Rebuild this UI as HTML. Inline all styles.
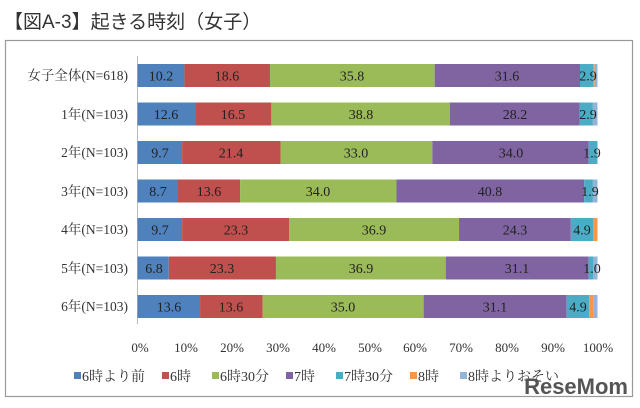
<!DOCTYPE html>
<html><head><meta charset="utf-8"><style>
html,body{margin:0;padding:0;background:#fff;}
svg{display:block;}
</style></head><body>
<svg width="640" height="408" xmlns="http://www.w3.org/2000/svg" font-family="'Liberation Serif','Noto Serif CJK SC',serif">
<rect x="0" y="0" width="640" height="408" fill="#fff"/>
<text x="4" y="28" font-size="19" fill="#333" font-family="'Liberation Sans','Noto Sans CJK JP',sans-serif">【図A-3】起きる時刻（女子）</text>
<rect x="5.5" y="40.5" width="627" height="356" fill="none" stroke="#999" stroke-width="1.2"/>
<line x1="137.5" y1="56" x2="137.5" y2="324" stroke="#bbb"/>

<g>
<rect x="137.5" y="64" width="46.92" height="23" fill="#4f81bd"/>
<rect x="184.42" y="64" width="85.56" height="23" fill="#c0504d"/>
<rect x="269.98" y="64" width="164.68" height="23" fill="#9bbb59"/>
<rect x="434.66" y="64" width="145.36" height="23" fill="#8064a2"/>
<rect x="580.02" y="64" width="13.34" height="23" fill="#4bacc6"/>
<rect x="593.36" y="64" width="1.38" height="23" fill="#f79646"/>
<rect x="594.74" y="64" width="2.76" height="23" fill="#95b3d7"/>

<rect x="137.5" y="102.5" width="57.96" height="23" fill="#4f81bd"/>
<rect x="195.46" y="102.5" width="75.9" height="23" fill="#c0504d"/>
<rect x="271.36" y="102.5" width="178.48" height="23" fill="#9bbb59"/>
<rect x="449.84" y="102.5" width="129.72" height="23" fill="#8064a2"/>
<rect x="579.56" y="102.5" width="13.34" height="23" fill="#4bacc6"/>
<rect x="592.9" y="102.5" width="4.6" height="23" fill="#95b3d7"/>

<rect x="137.5" y="141" width="44.62" height="23" fill="#4f81bd"/>
<rect x="182.12" y="141" width="98.44" height="23" fill="#c0504d"/>
<rect x="280.56" y="141" width="151.8" height="23" fill="#9bbb59"/>
<rect x="432.36" y="141" width="156.4" height="23" fill="#8064a2"/>
<rect x="588.76" y="141" width="8.74" height="23" fill="#4bacc6"/>

<rect x="137.5" y="179.5" width="40.02" height="23" fill="#4f81bd"/>
<rect x="177.52" y="179.5" width="62.56" height="23" fill="#c0504d"/>
<rect x="240.08" y="179.5" width="156.4" height="23" fill="#9bbb59"/>
<rect x="396.48" y="179.5" width="187.68" height="23" fill="#8064a2"/>
<rect x="584.16" y="179.5" width="8.74" height="23" fill="#4bacc6"/>
<rect x="592.9" y="179.5" width="4.6" height="23" fill="#95b3d7"/>

<rect x="137.5" y="218" width="44.62" height="23" fill="#4f81bd"/>
<rect x="182.12" y="218" width="107.18" height="23" fill="#c0504d"/>
<rect x="289.3" y="218" width="169.74" height="23" fill="#9bbb59"/>
<rect x="459.04" y="218" width="111.78" height="23" fill="#8064a2"/>
<rect x="570.82" y="218" width="22.54" height="23" fill="#4bacc6"/>
<rect x="593.36" y="218" width="4.14" height="23" fill="#f79646"/>

<rect x="137.5" y="256.5" width="31.28" height="23" fill="#4f81bd"/>
<rect x="168.78" y="256.5" width="107.18" height="23" fill="#c0504d"/>
<rect x="275.96" y="256.5" width="169.74" height="23" fill="#9bbb59"/>
<rect x="445.7" y="256.5" width="143.06" height="23" fill="#8064a2"/>
<rect x="588.76" y="256.5" width="4.6" height="23" fill="#4bacc6"/>
<rect x="593.36" y="256.5" width="4.14" height="23" fill="#95b3d7"/>

<rect x="137.5" y="295" width="62.56" height="23" fill="#4f81bd"/>
<rect x="200.06" y="295" width="62.56" height="23" fill="#c0504d"/>
<rect x="262.62" y="295" width="161" height="23" fill="#9bbb59"/>
<rect x="423.62" y="295" width="143.06" height="23" fill="#8064a2"/>
<rect x="566.68" y="295" width="22.54" height="23" fill="#4bacc6"/>
<rect x="589.22" y="295" width="4.6" height="23" fill="#f79646"/>
<rect x="593.82" y="295" width="3.68" height="23" fill="#95b3d7"/>
</g>

<g font-size="14" text-anchor="middle" fill="#222">
<text x="161" y="80.5">10.2</text><text x="227" y="80.5">18.6</text><text x="352" y="80.5">35.8</text><text x="507" y="80.5">31.6</text><text x="588" y="80.5">2.9</text>
<text x="166" y="119">12.6</text><text x="233" y="119">16.5</text><text x="361" y="119">38.8</text><text x="515" y="119">28.2</text><text x="588" y="119">2.9</text>
<text x="160" y="157.5">9.7</text><text x="231" y="157.5">21.4</text><text x="356" y="157.5">33.0</text><text x="511" y="157.5">34.0</text><text x="592" y="157.5">1.9</text>
<text x="158" y="196">8.7</text><text x="209" y="196">13.6</text><text x="318" y="196">34.0</text><text x="490" y="196">40.8</text><text x="590" y="196">1.9</text>
<text x="160" y="234.5">9.7</text><text x="236" y="234.5">23.3</text><text x="374" y="234.5">36.9</text><text x="515" y="234.5">24.3</text><text x="582" y="234.5">4.9</text>
<text x="154" y="273">6.8</text><text x="222" y="273">23.3</text><text x="361" y="273">36.9</text><text x="517" y="273">31.1</text><text x="592" y="273">1.0</text>
<text x="169" y="311.5">13.6</text><text x="231" y="311.5">13.6</text><text x="343" y="311.5">35.0</text><text x="495" y="311.5">31.1</text><text x="578" y="311.5">4.9</text>
</g>

<g font-size="13.5" fill="#333" text-anchor="end" font-family="'Liberation Serif','Noto Serif CJK JP',serif">
<text x="128" y="80">女子全体(N=618)</text>
<text x="128" y="119">1年(N=103)</text>
<text x="128" y="157">2年(N=103)</text>
<text x="128" y="196">3年(N=103)</text>
<text x="128" y="234">4年(N=103)</text>
<text x="128" y="273">5年(N=103)</text>
<text x="128" y="311">6年(N=103)</text>
</g>
<g font-size="13" fill="#333" text-anchor="middle">
<text x="140" y="352">0%</text><text x="186" y="352">10%</text><text x="232" y="352">20%</text><text x="278" y="352">30%</text><text x="324" y="352">40%</text><text x="370" y="352">50%</text><text x="415" y="352">60%</text><text x="461" y="352">70%</text><text x="507" y="352">80%</text><text x="553" y="352">90%</text><text x="598" y="352">100%</text>
</g>
<g font-size="14" fill="#333" font-family="'Liberation Serif','Noto Serif CJK JP',serif">
<rect x="74" y="372" width="7" height="7" fill="#4f81bd"/><text x="82" y="381">6時より前</text>
<rect x="162" y="372" width="7" height="7" fill="#c0504d"/><text x="170" y="381">6時</text>
<rect x="212" y="372" width="7" height="7" fill="#9bbb59"/><text x="220" y="381">6時30分</text>
<rect x="286" y="372" width="7" height="7" fill="#8064a2"/><text x="294" y="381">7時</text>
<rect x="336" y="372" width="7" height="7" fill="#4bacc6"/><text x="344" y="381">7時30分</text>
<rect x="410" y="372" width="7" height="7" fill="#f79646"/><text x="418" y="381">8時</text>
<rect x="460" y="372" width="7" height="7" fill="#95b3d7"/><text x="468" y="381">8時よりおそい</text>
</g>
<text x="628" y="394" font-size="22" font-weight="bold" fill="#555" text-anchor="end" font-family="'Liberation Sans',sans-serif">ReseMom</text>
</svg>
</body></html>
